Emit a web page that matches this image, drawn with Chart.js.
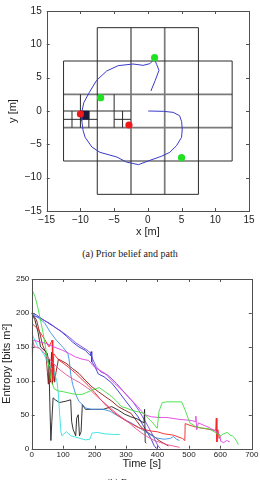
<!DOCTYPE html>
<html><head><meta charset="utf-8">
<script src="https://cdn.jsdelivr.net/npm/chart.js@4"></script>
<style>
html,body{margin:0;padding:0;width:260px;height:480px;overflow:hidden;background:#fff;}
canvas{position:absolute;left:0;}
#c1{top:0;}
#c2{top:262px;}
.cap{position:absolute;left:0;width:260px;text-align:center;font-family:"Liberation Serif","DejaVu Serif",serif;font-size:10px;line-height:12px;color:#222;white-space:nowrap;}
</style></head><body>
<canvas id="c1" width="260" height="240"></canvas>
<div class="cap" style="top:248px">(a) Prior belief and path</div>
<canvas id="c2" width="260" height="218"></canvas>
<div class="cap" style="top:477px">(b) Entropy</div>
<script>
// ---------- (a) map data ----------
const mapTicks = [-15,-10,-5,0,5,10,15];
// partition cell boundaries: [x1,y1,x2,y2]
const darkLines = [
  [-7.5,-12.5,-7.5,12.5],[7.5,-12.5,7.5,12.5],
  [-12.5,-7.5,-12.5,7.5],[12.5,-7.5,12.5,7.5],
  [-7.5,12.5,7.5,12.5],[-7.5,-12.5,7.5,-12.5],
  [-12.5,7.5,12.5,7.5],[-12.5,-7.5,12.5,-7.5],
  [-10,-2.5,-10,2.5],[-5,-2.5,-5,2.5],[-12.5,0,-2.5,0],
  [-11.25,-2.5,-11.25,0],[-8.75,-2.5,-8.75,0],[-12.5,-1.25,-7.5,-1.25],
  [-3.75,-2.5,-3.75,0],[-5,-1.25,-2.5,-1.25]
];
const grayLines = [
  [-2.5,-12.5,-2.5,12.5],[2.5,-12.5,2.5,12.5],
  [-12.5,2.5,12.5,2.5],[-12.5,-2.5,12.5,-2.5]
];
const darkCell = [[-10,0],[-8.75,0],[-8.75,-1.25],[-10,-1.25],[-10,0]];
const pathX = [0.45,1.1,1.65,1.3,0.95,0.3,-0.7,-2.2,-4.4,-6.1,-7.6,-8.7,-9.5,-9.8,-9.8,-9.6,-9.3,-8.3,-7.1,-4.6,-3.2,-1.4,0.3,2.0,3.25,4.25,5.0,5.1,5.0,4.7,3.75,2.3,0.05];
const pathY = [3.0,4.6,6.1,7.0,7.8,7.1,6.85,7.05,6.8,6.0,4.6,2.75,1.25,-0.2,-1.45,-2.95,-3.95,-5.4,-6.2,-6.9,-7.65,-8.05,-7.4,-6.8,-6.2,-5.2,-3.95,-2.7,-1.55,-0.7,-0.2,-0.05,0.0];
const greenX = [1.0,-7.0,5.0], greenY = [8.0,2.0,-7.0];
const redX = [-10.0,-2.8], redY = [-0.45,-2.1];

// ---------- (b) entropy data: [time s, entropy bits m^2] ----------
const timeTicks = [0,100,200,300,400,500,600,700];
const entTicks = [0,50,100,150,200,250];
const blueRun = [[0,200],[15,197],[30,192],[50,186],[70,180],[90,174],[110,166],[130,157],[150,150],[170,145],[187,137],[189,143],[191,128],[200,122],[212,110],[230,106],[254,97],[275,85],[296,72],[316,60],[337,48],[352,36],[368,24],[380,14],[389,5],[395,1],[400,0]];
const violetRun = [[0,197],[20,194],[40,189],[60,184],[80,177],[100,171],[120,164],[140,156],[160,150],[180,144],[188,140],[195,131],[205,121],[220,113],[240,109],[255,103],[270,96],[285,88],[300,80],[320,70],[340,57],[355,45],[370,33],[385,20],[395,10],[402,4],[410,0]];
const greenRun = [[0,235],[10,225],[20,207],[30,185],[36,171],[42,155],[47,141],[55,120],[62,100],[72,88],[85,85],[100,84],[119,82],[140,80],[160,80],[171,82],[190,86],[202,88],[215,90],[230,85],[254,77],[270,70],[285,62],[300,60],[316,57],[340,54],[358,52],[370,45],[385,38],[399,30],[405,55],[415,68],[430,69],[450,69],[477,69],[487,58],[503,38],[520,33],[534,31],[550,30],[565,29],[580,25],[601,19],[610,22],[622,24],[630,20],[638,19],[645,16],[653,10],[657,6]];
const redRun = [[0,185],[20,176],[40,162],[55,150],[65,160],[67,100],[70,140],[85,131],[100,126],[120,119],[140,111],[160,102],[180,93],[200,83],[220,72],[240,62],[260,54],[280,47],[300,41],[320,36],[340,31],[360,28],[380,26],[399,25],[420,22],[450,20],[480,15],[487,12],[488,37],[500,35],[520,32],[545,30],[570,28],[585,27],[587,45],[589,10],[592,28],[596,15],[600,18]];
const darkRedRun = [[0,200],[15,190],[25,172],[35,152],[45,142],[50,112],[53,95],[56,132],[60,98],[63,142],[66,95],[70,125],[73,98],[77,112],[85,132],[109,126],[130,118],[150,111],[170,101],[192,91],[212,84],[233,77],[255,70],[275,62],[295,57],[316,52],[335,40],[348,32],[365,25],[389,18],[405,12],[420,8],[435,4]];
const magentaRun = [[0,155],[2,135],[5,160],[20,158],[47,155],[70,150],[98,145],[120,140],[140,135],[160,132],[181,130],[200,120],[233,111],[264,96],[290,85],[306,77],[337,62],[350,55],[360,50],[380,47],[404,46],[430,46],[472,43],[500,42],[513,41],[520,40],[522,48],[525,28],[530,38],[550,34],[565,31],[580,27],[591,24],[598,20],[601,11],[610,9],[620,12],[630,10]];
const pinkRun = [[0,160],[10,150],[25,148],[40,141],[55,133],[70,125],[90,116],[110,109],[130,103],[150,98],[170,92],[190,85],[210,76],[230,68],[250,60],[270,52],[290,45],[310,38],[330,30],[350,23],[370,17],[390,12],[410,9],[430,6],[450,4],[470,2]];
const blackRun = [[0,200],[10,190],[20,172],[28,150],[40,145],[50,140],[55,120],[58,60],[61,12],[64,40],[68,75],[75,72],[88,68],[109,70],[124,72],[127,40],[132,28],[140,19],[143,45],[148,50],[152,19],[157,25],[161,65],[171,58],[202,58],[228,58],[254,62],[275,57],[295,51],[315,47],[335,44],[350,40],[357,38],[359,58],[361,10],[364,8]];
const cyanRun = [[0,171],[5,165],[10,160],[20,150],[30,145],[40,138],[50,128],[60,120],[70,114],[80,100],[85,80],[89,50],[93,25],[96,19],[110,25],[125,19],[140,17],[155,15],[171,13],[185,14],[192,23],[210,24],[230,22],[260,21],[280,21]];
const skyRun = [[0,198],[20,193],[40,186],[60,171],[80,159],[100,149],[115,140],[119,131],[124,110],[130,95],[140,80],[150,70],[161,65],[171,60],[190,58],[212,58],[228,58],[250,55],[275,48],[300,42],[316,38],[345,30],[368,23],[395,16],[420,14],[440,15],[451,18],[460,14],[470,12]];

// ---------- helpers ----------
const toXY = pairs => pairs.map(([x,y]) => ({x, y}));
const segPts = segs => { const o=[]; segs.forEach(([a,b,c,d]) => { o.push({x:a,y:b},{x:c,y:d},{x:c,y:null}); }); return o; };
const zipXY = (xs, ys) => xs.map((x,i) => ({x, y: ys[i]}));
const minusFmt = v => v < 0 ? '\u2212' + Math.abs(v) : String(v);

const framePlugin = {
  id: 'frame',
  afterDatasetsDraw(chart) {
    const {ctx, chartArea: a} = chart;
    const xs = chart.scales.x, ys = chart.scales.y;
    const L = 3;
    ctx.save();
    ctx.strokeStyle = '#505050';
    ctx.lineWidth = 1;
    ctx.beginPath();
    xs.ticks.forEach(t => {
      const p = Math.round(xs.getPixelForValue(t.value)) + 0.5;
      ctx.moveTo(p, a.bottom); ctx.lineTo(p, a.bottom - L);
      ctx.moveTo(p, a.top); ctx.lineTo(p, a.top + L);
    });
    ys.ticks.forEach(t => {
      const p = Math.round(ys.getPixelForValue(t.value)) + 0.5;
      ctx.moveTo(a.left, p); ctx.lineTo(a.left + L, p);
      ctx.moveTo(a.right, p); ctx.lineTo(a.right - L, p);
    });
    ctx.stroke();
    ctx.strokeRect(Math.round(a.left)+0.5, Math.round(a.top)+0.5, Math.round(a.right - a.left), Math.round(a.bottom - a.top));
    ctx.restore();
  }
};

const FONT = '"Liberation Sans", Arial, sans-serif';

// ---------- chart (a) ----------
new Chart(document.getElementById('c1'), {
  type: 'scatter',
  data: { datasets: [
    { data: zipXY(greenX, greenY), pointRadius: 3.6, pointBackgroundColor: '#22e022', pointBorderWidth: 0, showLine: false, order: 0 },
    { data: zipXY(redX, redY), pointRadius: 3.6, pointBackgroundColor: '#f01818', pointBorderWidth: 0, showLine: false, order: 0 },
    { data: zipXY(pathX, pathY), showLine: true, borderColor: '#3a3ac8', borderWidth: 1, pointRadius: 0, tension: 0, order: 1 },
    { data: toXY(darkCell), showLine: true, borderColor: '#1c1c3a', borderWidth: 0.5, backgroundColor: '#1c1c3a', fill: 'shape', pointRadius: 0, order: 2 },
    { data: segPts(darkLines), showLine: true, borderColor: '#2a2a2a', borderWidth: 1, pointRadius: 0, spanGaps: false, order: 3 },
    { data: segPts(grayLines), showLine: true, borderColor: '#7a7a7a', borderWidth: 1.7, pointRadius: 0, spanGaps: false, order: 4 }
  ]},
  options: {
    responsive: false, animation: false, devicePixelRatio: 1,
    layout: { autoPadding: false, padding: { top: 9, right: 11, left: 0, bottom: 0 } },
    plugins: { legend: { display: false }, tooltip: { enabled: false } },
    scales: {
      x: { type: 'linear', min: -15, max: 15,
        afterBuildTicks: s => { s.ticks = mapTicks.map(v => ({value: v})); },
        afterFit: s => { s.height = 29; },
        grid: { display: false, drawTicks: false }, border: { display: false },
        ticks: { callback: minusFmt, color: '#222', font: { family: FONT, size: 10 }, padding: 3, maxRotation: 0, autoSkip: false },
        title: { display: true, text: 'x [m]', color: '#222', font: { family: FONT, size: 11 }, padding: { top: 0, bottom: 1.4 } } },
      y: { type: 'linear', min: -15, max: 15,
        afterBuildTicks: s => { s.ticks = mapTicks.map(v => ({value: v})); },
        afterFit: s => { s.width = 46.7; },
        grid: { display: false, drawTicks: false }, border: { display: false },
        ticks: { callback: minusFmt, color: '#222', font: { family: FONT, size: 10 }, padding: 5, autoSkip: false },
        title: { display: true, text: 'y [m]', color: '#222', font: { family: FONT, size: 11 }, padding: { top: 6, bottom: 0 } } }
    }
  },
  plugins: [framePlugin]
});

// ---------- chart (b) ----------
const runs = [
  [greenRun, '#3ee03e'], [pinkRun, '#e8508e'], [magentaRun, '#e23ee2'], [redRun, '#f02424'],
  [skyRun, '#3a8ee6'], [cyanRun, '#33e0e0'], [blackRun, '#1e1e1e'], [darkRedRun, '#8e1414'],
  [violetRun, '#7b44e0'], [blueRun, '#2f2fd0']
];
new Chart(document.getElementById('c2'), {
  type: 'line',
  data: { datasets: runs.map(([d, c]) => ({ data: toXY(d), borderColor: c, borderWidth: 0.9, pointRadius: 0, tension: 0, fill: false })) },
  options: {
    responsive: false, animation: false, devicePixelRatio: 1,
    layout: { autoPadding: false, padding: { top: 17, right: 3.3, left: 0, bottom: 0 } },
    plugins: { legend: { display: false }, tooltip: { enabled: false } },
    scales: {
      x: { type: 'linear', min: 0, max: 700,
        afterBuildTicks: s => { s.ticks = timeTicks.map(v => ({value: v})); },
        afterFit: s => { s.height = 31.3; },
        grid: { display: false, drawTicks: false }, border: { display: false },
        ticks: { color: '#222', font: { family: FONT, size: 8 }, padding: 1.5, maxRotation: 0, autoSkip: false },
        title: { display: true, text: 'Time [s]', color: '#222', font: { family: FONT, size: 11 }, padding: { top: 0, bottom: 9.4 } } },
      y: { type: 'linear', min: 0, max: 250,
        afterBuildTicks: s => { s.ticks = entTicks.map(v => ({value: v})); },
        afterFit: s => { s.width = 31.7; },
        grid: { display: false, drawTicks: false }, border: { display: false },
        ticks: { color: '#222', font: { family: FONT, size: 8 }, padding: 2.4, autoSkip: false },
        title: { display: true, text: 'Entropy [bits m\u00B2]', color: '#222', font: { family: FONT, size: 11 }, padding: { top: 0.8, bottom: 0 } } }
    }
  },
  plugins: [framePlugin]
});
</script>
</body></html>
